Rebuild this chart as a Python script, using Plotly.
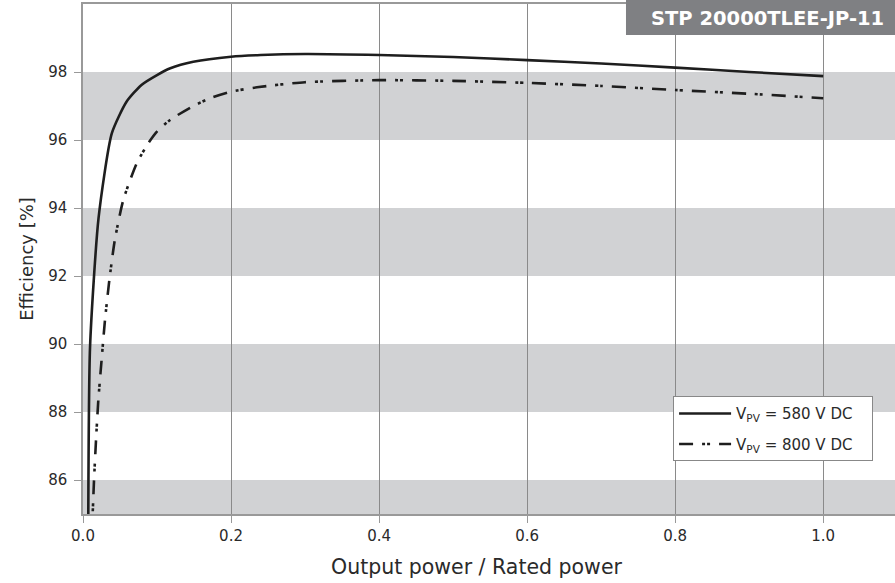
import plotly.graph_objects as go

# Data
x_580 = [0.007, 0.0095, 0.021, 0.039, 0.059, 0.079, 0.100, 0.118, 0.149, 0.200, 0.240, 0.300, 0.400, 0.500, 0.600, 0.700, 0.800, 0.900, 1.000]
y_580 = [84.0, 89.9, 93.7, 96.2, 97.13, 97.62, 97.91, 98.11, 98.30, 98.45, 98.50, 98.53, 98.50, 98.44, 98.35, 98.25, 98.13, 98.00, 97.88]

x_800 = [0.012, 0.0149, 0.0176, 0.0207, 0.025, 0.0297, 0.0356, 0.043, 0.0545, 0.0725, 0.088, 0.0996, 0.1176, 0.149, 0.172, 0.200, 0.235, 0.300, 0.400, 0.500, 0.600, 0.700, 0.800, 0.900, 1.000]
y_800 = [84.4, 86.0, 87.18, 88.35, 89.5, 90.7, 91.88, 93.06, 94.24, 95.31, 95.9, 96.24, 96.59, 97.0, 97.23, 97.42, 97.55, 97.70, 97.76, 97.74, 97.68, 97.59, 97.47, 97.36, 97.23]

x_ticks = [0.0, 0.2, 0.4, 0.6, 0.8, 1.0]
y_ticks = [86, 88, 90, 92, 94, 96, 98]
bands = [(84, 86), (88, 90), (92, 94), (96, 98)]

FONT = "DejaVu Sans"
TXT = "#2a2a2a"
PAD = "&nbsp;" * 3
fig = go.Figure()

fig.add_trace(go.Scatter(x=x_580, y=y_580, mode="lines", name="V<sub>PV</sub> = 580 V DC" + PAD,
                         legendgroup="a",
                         line=dict(color="#1e1e1e", width=2.6, shape="spline", smoothing=0.6)))
fig.add_trace(go.Scatter(x=x_800, y=y_800, mode="lines", name="V<sub>PV</sub> = 800 V DC" + PAD,
                         legendgroup="b",
                         line=dict(color="#1e1e1e", width=2.6, shape="spline", smoothing=0.6,
                                   dash="14px,9px,3px,2px,3px,9px")))

for y0, y1 in bands:
    fig.add_shape(type="rect", xref="paper", yref="y", x0=0, x1=1, y0=y0, y1=y1,
                  fillcolor="#d1d2d4", line=dict(width=0), layer="below")

# Title box
fig.add_shape(type="rect", xref="paper", yref="paper", x0=0.6687, x1=1.01, y0=0.939, y1=1.02,
              fillcolor="#7f8083", line=dict(width=0), layer="above")
fig.add_annotation(xref="paper", yref="paper", x=0.843, y=0.9725, text="<b>STP 20000TLEE-JP-11</b>",
                   showarrow=False, font=dict(family=FONT, size=19.5, color="white"),
                   xanchor="center", yanchor="middle")

# X axis title (centred as in the reference)
fig.add_annotation(xref="paper", yref="paper", x=0.484, y=-0.104, text="Output power / Rated power",
                   showarrow=False, font=dict(family=FONT, size=20.5, color=TXT),
                   xanchor="center", yanchor="middle")

fig.update_layout(
    width=895, height=583,
    margin=dict(l=83, r=0, t=4, b=69),
    paper_bgcolor="white", plot_bgcolor="white",
    font=dict(family=FONT, size=15, color=TXT),
    showlegend=True,
    legend=dict(x=0.973, y=0.231, xanchor="right", yanchor="top",
                bgcolor="white", bordercolor="#888888", borderwidth=1,
                font=dict(family=FONT, size=15, color=TXT),
                traceorder="grouped", tracegroupgap=8,
                itemwidth=52),
    xaxis=dict(range=[0, 1.097], tickvals=x_ticks, ticktext=[f"{v:.1f}" for v in x_ticks],
               showgrid=True, gridcolor="#8a8a8a", gridwidth=1,
               showline=True, linecolor="#999999", linewidth=1.5, mirror=True,
               ticks="outside", ticklen=7, tickcolor="#999999",
               tickfont=dict(family=FONT, size=15, color=TXT),
               zeroline=False),
    yaxis=dict(range=[85, 100], tickvals=y_ticks, showgrid=False,
               showline=True, linecolor="#999999", linewidth=1.5,
               ticks="outside", ticklen=7, tickcolor="#999999",
               tickfont=dict(family=FONT, size=15, color=TXT),
               zeroline=False, ticklabelstandoff=4,
               title=dict(text="Efficiency [%]", font=dict(family=FONT, size=18, color=TXT), standoff=10)),
)

fig.write_html("out.html")
